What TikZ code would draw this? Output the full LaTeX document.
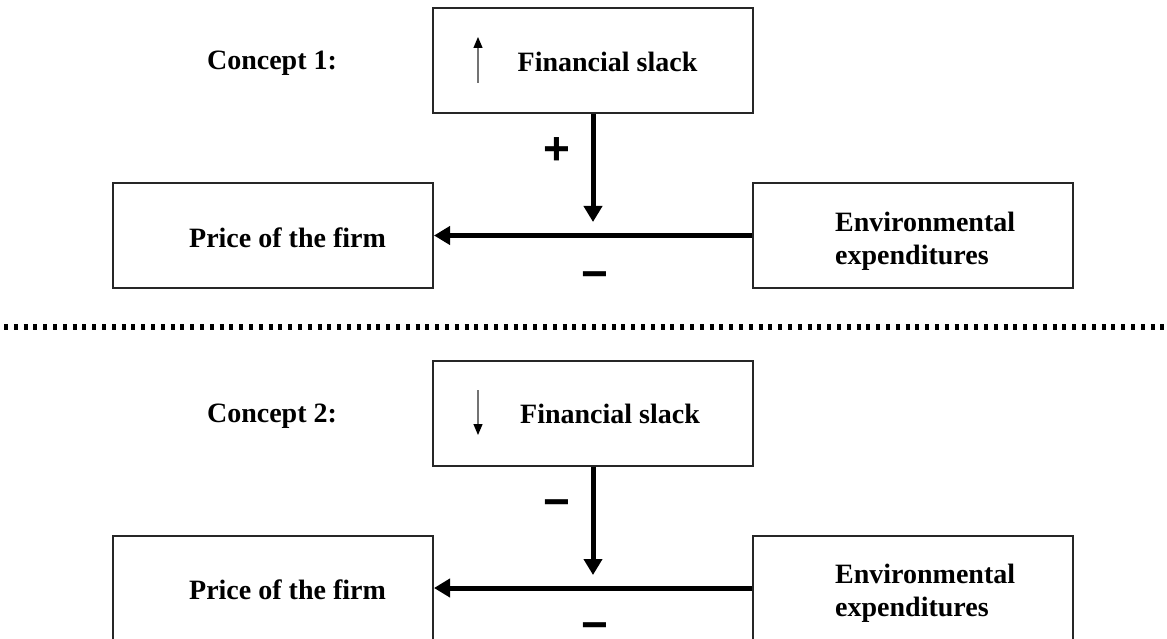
\documentclass[tikz,border=0pt]{standalone}
\usepackage{fontspec}
\setmainfont{Liberation Serif}
\newfontfamily\signfont{Liberation Sans}
\usetikzlibrary{arrows.meta}
\begin{document}
\begin{tikzpicture}[x=1pt,y=-1pt,
  box/.style={draw=black!85, line width=2pt, fill=white, minimum width=320pt, minimum height=105pt, inner sep=0pt},
  lbl/.style={font=\fontsize{28}{33}\selectfont\bfseries, inner sep=0pt},
  sign/.style={font=\signfont\fontsize{46}{46}\selectfont\bfseries, inner sep=0pt},
  bigarrow/.style={line width=5pt, -{Triangle[length=16pt,width=18pt]}},
  smallarrow/.style={draw=black!55, line width=1.3pt, -{Triangle[length=11pt,width=9pt,fill=black,color=black]}},
  sep/.style={line width=6pt, dash pattern=on 4pt off 5.8pt}
]
\useasboundingbox (0,0) rectangle (1167,639);
\clip (0,0) rectangle (1167,639);

% ---------- Concept 1 ----------
\node[lbl] (c1) at (272,63) {Concept 1:};
\node[box] (fs1) at (593,60.5) {};
\node[lbl] (fs1t) at (607.5,62) {Financial slack};
\coordinate (ua1) at (478,83);
\coordinate (ub1) at (478,37);
\draw[smallarrow] (ua1) -- (ub1);

\node[box] (pr1) at (273,235.5) {};
\node[lbl] (pr1t) at (287.5,238) {Price of the firm};
\node[box] (en1) at (913,235.5) {};
\node[lbl, align=left, anchor=west] (en1t) at (835,241) {Environmental\\expenditures};

\coordinate (t1) at (593,222);
\draw[bigarrow] (fs1.south) -- (t1);
\draw[bigarrow] (en1.west) -- (pr1.east);
\node[sign] (p1) at (557,151) {+};
\node[sign] (m1) at (595,281) {−};

% ---------- separator ----------
\coordinate (sl) at (4,327);
\coordinate (sr) at (1165,327);
\draw[sep] (sl) -- (sr);

% ---------- Concept 2 ----------
\node[lbl] (c2) at (272,416) {Concept 2:};
\node[box] (fs2) at (593,413) {};
\node[lbl] (fs2t) at (610,414) {Financial slack};
\coordinate (ua2) at (478,390);
\coordinate (ub2) at (478,435);
\draw[smallarrow] (ua2) -- (ub2);

\node[box] (pr2) at (273,588) {};
\node[lbl] (pr2t) at (287.5,590) {Price of the firm};
\node[box] (en2) at (913,588) {};
\node[lbl, align=left, anchor=west] (en2t) at (835,593) {Environmental\\expenditures};

\coordinate (t2) at (593,575);
\draw[bigarrow] (fs2.south) -- (t2);
\draw[bigarrow] (en2.west) -- (pr2.east);
\node[sign] (m2) at (557,509) {−};
\node[sign] (m3) at (595,632) {−};
\end{tikzpicture}
\end{document}
